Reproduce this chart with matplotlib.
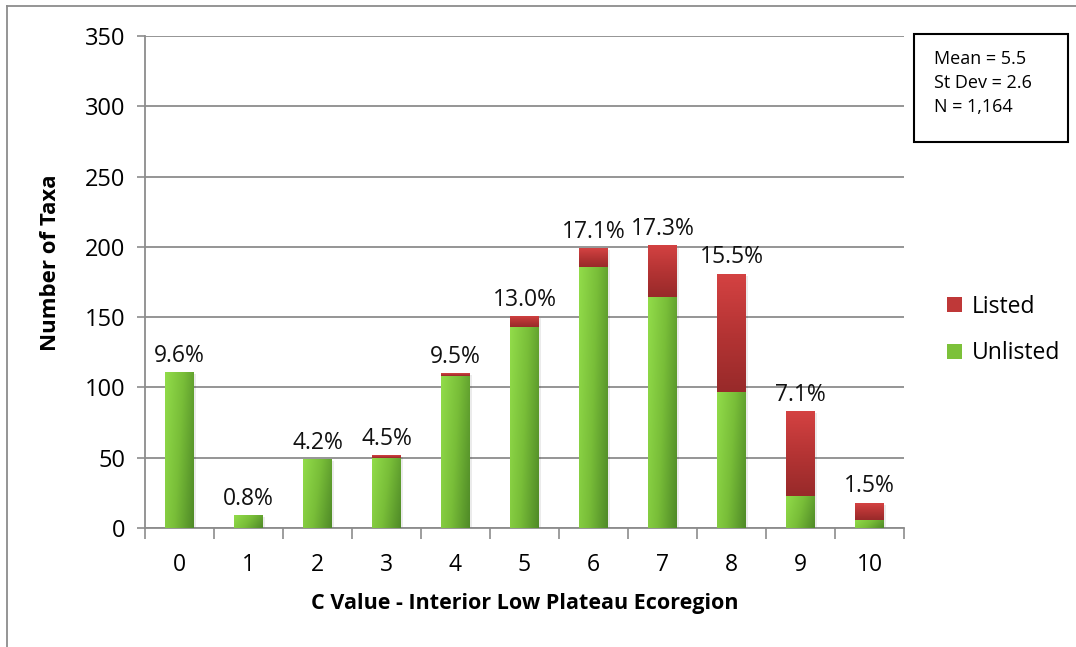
import numpy as np
import matplotlib
matplotlib.use("Agg")
import matplotlib.pyplot as plt
from matplotlib.colors import LinearSegmentedColormap
from matplotlib.patches import Rectangle
from matplotlib.lines import Line2D

plt.rcParams["font.family"] = ["Open Sans", "DejaVu Sans"]

# data
c_values = ["0", "1", "2", "3", "4", "5", "6", "7", "8", "9", "10"]
unlisted = [111, 9, 49, 50, 108, 143, 186, 164, 97, 23, 6]
listed = [0, 0, 0, 2, 2, 8, 13, 37, 84, 60, 12]
pct_labels = ["9.6%", "0.8%", "4.2%", "4.5%", "9.5%", "13.0%",
              "17.1%", "17.3%", "15.5%", "7.1%", "1.5%"]
stats_text = "Mean = 5.5\nSt Dev = 2.6\nN = 1,164"

green_cmap = LinearSegmentedColormap.from_list("g", ["#92dc4a", "#78bd38", "#4f8a27"])
red_cmap = LinearSegmentedColormap.from_list("r", ["#d44242", "#b53434", "#982a2a"])

fig = plt.figure(figsize=(10.76, 6.47), dpi=100)
ax = fig.add_axes([145 / 1076, 1 - 528 / 647, 759 / 1076, 492 / 647])

x = np.arange(len(c_values))
width = 0.42

# horizontal (green) and vertical (red) gradients
gx = np.linspace(0, 1, 64)
gy = np.linspace(0, 1, 64)
green_grad = 0.75 * gx[None, :] + 0.25 * gy[:, None]
red_grad = np.tile(gy[:, None], (1, 2))


def grad_bar(xc, bottom, height, cmap, grad):
    if height <= 0:
        return
    rect = Rectangle((xc - width / 2, bottom), width, height,
                     facecolor="none", edgecolor="none")
    ax.add_patch(rect)
    im = ax.imshow(grad, cmap=cmap, aspect="auto", origin="upper",
                   extent=(xc - width / 2, xc + width / 2, bottom, bottom + height),
                   zorder=3, interpolation="bilinear")
    im.set_clip_path(rect)


for i in x:
    # soft shadow
    ax.add_patch(Rectangle((i - width / 2 + 0.03, -1.5), width,
                           unlisted[i] + listed[i], facecolor="#000000",
                           alpha=0.08, edgecolor="none", zorder=2))
    grad_bar(i, 0, unlisted[i], green_cmap, green_grad)
    grad_bar(i, unlisted[i], listed[i], red_cmap, red_grad)
    ax.text(i, unlisted[i] + listed[i] + 3, pct_labels[i], ha="center",
            va="bottom", fontsize=16.5, color="#111111", zorder=5)

ax.set_xlim(-0.5, len(c_values) - 0.5)
ax.set_ylim(0, 350)
ax.set_yticks(np.arange(0, 351, 50))
ax.set_xticks(x)
ax.set_xticklabels(c_values)
ax.set_xticks(np.arange(-0.5, len(c_values), 1), minor=True)
ax.tick_params(axis="x", which="major", length=0, labelsize=16.5, pad=18)
ax.tick_params(axis="x", which="minor", length=8, width=1.2, color="#8c8c8c")
ax.tick_params(axis="y", length=6, width=1.2, color="#8c8c8c", labelsize=17, pad=8)

ax.grid(axis="y", color="#8c8c8c", linewidth=1.3, zorder=0)
ax.set_axisbelow(True)
for side in ["top", "right"]:
    ax.spines[side].set_visible(False)
for side in ["left", "bottom"]:
    ax.spines[side].set_color("#8c8c8c")
    ax.spines[side].set_linewidth(1.3)

fig.text(525 / 1076, 1 - 604 / 647, "C Value - Interior Low Plateau Ecoregion",
         ha="center", va="center", fontsize=15.5, fontweight="bold")
fig.text(51 / 1076, 1 - 263 / 647, "Number of Taxa", ha="center", va="center",
         rotation=90, fontsize=16, fontweight="bold")

# legend
handles = [Rectangle((0, 0), 1, 1, facecolor="#bf3838"),
           Rectangle((0, 0), 1, 1, facecolor="#7cc13a")]
fig.legend(handles, ["Listed", "Unlisted"], loc="center left",
           bbox_to_anchor=(926 / 1076, 1 - 330 / 647), frameon=False,
           fontsize=16.5, handlelength=0.65, handleheight=0.65,
           handletextpad=0.45, labelspacing=1.0)

# stats box
fig.patches.append(Rectangle((914 / 1076, 1 - 142 / 647), 154 / 1076, 108 / 647,
                             transform=fig.transFigure, facecolor="white",
                             edgecolor="black", linewidth=1.5))
fig.text(934 / 1076, 1 - 83 / 647, stats_text, ha="left", va="center",
         fontsize=13, linespacing=1.45)

# outer frame (top and left only)
fig.lines.append(Line2D([7 / 1076, 1], [1 - 6 / 647, 1 - 6 / 647],
                        transform=fig.transFigure, color="#8c8c8c", linewidth=1.3))
fig.lines.append(Line2D([7 / 1076, 7 / 1076], [0, 1 - 6 / 647],
                        transform=fig.transFigure, color="#8c8c8c", linewidth=1.3))

fig.savefig("out.png", dpi=100)
